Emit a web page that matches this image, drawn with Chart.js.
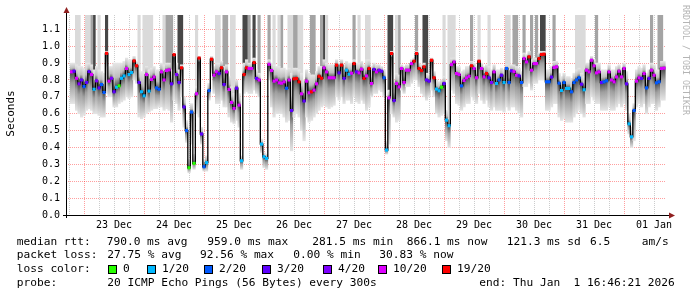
<!DOCTYPE html>
<html>
<head>
<meta charset="utf-8">
<script src="https://cdn.jsdelivr.net/npm/chart.js@4.4.1/dist/chart.umd.min.js"></script>
<style>
  html, body { margin: 0; padding: 0; background: #fff; }
</style>
</head>
<body>
<canvas id="c" width="697" height="297"></canvas>
<script>
// time axis is in hours after 22 Dec 00:00, one sample per hour
const firstHour = 19;
const startHour = 16 + 46 / 60 + 21 / 3600;   // 22 Dec 16:46:21
const endHour = startHour + 240;              // 01 Jan 16:46:21
const yMax = 1.185;

const median = [
  .848,.852,.81,.777,.80,.761,.785,.85,.832,.745,
  .795,.753,.773,.726,.958,.793,.81,.73,.757,.765,
  .81,.824,.868,.832,.844,.913,.884,.785,.73,.706,
  .832,.734,.803,.818,.753,.745,.848,.80,.856,.86,
  .777,.95,.832,.785,.872,.64,.50,.28,.61,.306,
  .718,.93,.48,.286,.31,.737,.923,.828,.848,.838,
  .872,.773,.848,.744,.667,.631,.751,.651,.321,.832,
  .872,.868,.868,.903,.809,.80,.42,.345,.335,.893,
  .856,.793,.80,.783,.781,.789,.751,.80,.619,.807,
  .809,.789,.718,.675,.793,.724,.73,.74,.777,.822,
  .81,.872,.848,.813,.813,.813,.888,.842,.888,.809,
  .858,.834,.84,.897,.848,.842,.864,.809,.824,.868,
  .779,.862,.848,.858,.852,.813,.385,.694,.957,.678,
  .779,.759,.868,.785,.858,.858,.897,.911,.957,.868,
  .856,.878,.80,.793,.917,.813,.746,.736,.757,.779,
  .562,.529,.891,.907,.838,.832,.765,.797,.813,.822,
  .884,.868,.813,.911,.868,.818,.838,.813,.785,.848,
  .779,.80,.828,.785,.868,.785,.854,.85,.828,.824,
  .785,.927,.907,.937,.858,.897,.897,.927,.951,.953,
  .789,.789,.817,.874,.878,.781,.738,.785,.75,.75,
  .73,.785,.80,.813,.775,.742,.858,.848,.917,.884,
  .842,.848,.785,.789,.795,.848,.80,.789,.818,.852,
  .818,.868,.777,.54,.463,.619,.793,.813,.809,.838,
  .753,.809,.858,.828,.783,.789,.868,.87
];

// index into lossColors
const loss = [
  5,3,5,4,3,2,3,3,5,1,
  4,3,2,2,6,5,4,3,1,0,
  1,1,5,1,1,6,6,3,1,1,
  5,1,5,5,2,2,5,5,5,5,
  3,6,4,3,6,3,2,0,2,0,
  5,6,3,2,1,2,6,5,5,3,
  6,3,5,5,5,5,3,5,1,6,
  6,5,5,6,3,5,1,1,1,5,
  5,5,5,5,5,5,2,5,3,6,
  6,6,5,3,5,5,6,5,5,6,
  6,5,5,5,5,5,6,3,6,3,
  1,1,5,6,3,5,5,6,5,6,
  5,3,5,4,3,2,1,5,6,3,
  5,5,5,5,5,5,5,6,6,6,
  6,6,3,3,6,6,1,1,0,3,
  1,1,5,5,5,5,2,5,5,5,
  6,5,5,6,5,5,6,3,4,5,
  1,2,3,1,2,2,3,5,5,3,
  2,5,5,6,5,5,5,6,6,6,
  2,2,3,5,5,2,1,2,1,1,
  2,2,2,2,3,1,5,5,5,5,
  5,5,3,2,2,5,5,5,5,5,
  5,5,3,1,1,2,5,5,3,5,
  2,3,5,5,2,2,5,5
];

const smokeLo = [
  .66,.66,.62,.60,.58,.59,.62,.63,.62,.60,
  .60,.59,.58,.58,.72,.70,.70,.64,.64,.66,
  .67,.68,.70,.69,.70,.80,.78,.58,.57,.58,
  .60,.61,.62,.63,.63,.64,.64,.62,.63,.62,
  .55,.68,.66,.62,.70,.52,.43,.25,.42,.27,
  .60,.58,.42,.26,.26,.68,.84,.72,.66,.66,
  .68,.64,.64,.58,.55,.54,.56,.52,.27,.72,
  .73,.72,.72,.74,.72,.70,.37,.28,.27,.80,
  .64,.58,.60,.60,.60,.58,.55,.56,.38,.58,
  .60,.58,.50,.44,.58,.55,.56,.58,.60,.62,
  .64,.65,.64,.63,.64,.65,.70,.68,.70,.66,
  .68,.68,.66,.70,.67,.66,.68,.66,.62,.64,
  .70,.72,.72,.74,.73,.70,.36,.42,.60,.58,
  .55,.56,.74,.72,.76,.76,.78,.80,.80,.76,
  .72,.70,.68,.70,.74,.70,.60,.58,.59,.60,
  .44,.40,.74,.72,.66,.65,.62,.64,.66,.66,
  .70,.68,.66,.72,.68,.66,.68,.64,.62,.64,
  .62,.62,.62,.61,.64,.62,.64,.64,.62,.60,
  .58,.76,.76,.78,.74,.78,.78,.80,.80,.80,
  .62,.62,.64,.66,.66,.58,.56,.57,.55,.55,
  .55,.58,.60,.62,.60,.58,.66,.66,.70,.68,
  .66,.66,.62,.62,.62,.64,.62,.62,.64,.66,
  .64,.66,.62,.48,.40,.44,.64,.66,.64,.66,
  .60,.64,.66,.66,.62,.64,.68,.68
];

const smokeHi = [
  .90,.90,.89,.88,.88,.87,.90,.90,.89,.86,
  .88,.86,.85,.84,.97,.88,.88,.90,.90,.90,
  .90,.91,.93,.92,.92,.94,.91,.87,.85,.85,
  .88,.86,.87,.88,.86,.86,.90,.89,.90,.90,
  .86,.96,.90,.86,.89,.70,.56,.33,.66,.36,
  .76,.94,.52,.33,.35,.78,.94,.88,.90,.90,
  .91,.88,.89,.82,.76,.72,.80,.72,.35,.90,
  .92,.90,.90,.93,.86,.84,.45,.37,.36,.92,
  .90,.89,.88,.88,.87,.87,.86,.87,.84,.87,
  .87,.86,.84,.80,.86,.84,.83,.83,.85,.88,
  .88,.92,.90,.89,.89,.89,.92,.90,.92,.89,
  .91,.90,.90,.92,.90,.90,.91,.89,.92,.92,
  .88,.90,.89,.89,.88,.86,.44,.74,.97,.80,
  .84,.83,.89,.88,.89,.89,.92,.93,.97,.90,
  .89,.90,.84,.83,.93,.85,.80,.79,.80,.82,
  .62,.57,.93,.93,.88,.88,.85,.86,.88,.88,
  .91,.90,.88,.93,.90,.88,.89,.88,.86,.89,
  .86,.86,.87,.86,.89,.86,.89,.89,.88,.87,
  .85,.96,.95,.97,.92,.93,.93,.96,.97,.97,
  .86,.86,.88,.91,.91,.84,.82,.84,.82,.82,
  .81,.84,.86,.87,.84,.82,.90,.90,.94,.92,
  .90,.90,.86,.86,.86,.89,.86,.86,.88,.89,
  .87,.90,.85,.60,.52,.66,.86,.88,.87,.89,
  .84,.86,.90,.89,.86,.86,.91,.91
];

// hours where some pings went off the top of the graph
const lightSpikes = [21,22,25,26,30,46,48,49,50,51,56,69,77,78,83,84,100,102,106,107,110,111,121,134,137,138,149,168,170,171,172,182,186,193,194,221,222,223,224];
const greySpikes = [27,57,58,59,80,81,90,94,98,103,108,109,115,116,119,132,150,157,179,196,197,200,203,205,212,229,251,254,255];
const darkSpikes = [28,33,62,63,88,89,92,120,146,147,160,161,207,208];

const dayLabels = ['23 Dec','24 Dec','25 Dec','26 Dec','27 Dec','28 Dec','29 Dec','30 Dec','31 Dec','01 Jan'];
const yTicks = [0.0,0.1,0.2,0.3,0.4,0.5,0.6,0.7,0.8,0.9,1.0,1.1];

const lossColors = ['#26ff00','#00b8ff','#0059ff','#5e00ff','#7e00ff','#dd00ff','#ff0000'];
const lossLabels = ['0','1/20','2/20','3/20','4/20','10/20','19/20'];
const lossKeyX = [108, 147, 204, 262, 323, 378, 442];

const statLines = [
  [[16.7,'median rtt:'],[106.7,'790.0 ms avg'],[207.3,'959.0 ms max'],[312.3,'281.5 ms min'],[406.7,'866.1 ms now'],[506.7,'121.3 ms sd'],[590,'6.5'],[641.7,'am/s']],
  [[16.7,'packet loss:'],[107.3,'27.75 % avg'],[200,'92.56 % max'],[293.3,'0.00 % min'],[379.3,'30.83 % now']],
  [[16.7,'loss color:']],
  [[16.7,'probe:'],[107.3,'20 ICMP Echo Pings (56 Bytes) every 300s'],[479.3,'end: Thu Jan  1 16:46:21 2026']]
];
const statY = [241.7, 255, 269, 282.7];

const MONO = '"DejaVu Sans Mono", monospace';

function smokeFill(c) {
  if (c.type !== 'data') return '#999';
  const ys = c.chart.scales.y;
  const i = c.dataIndex;
  if (!ys) return '#999';
  const top = ys.getPixelForValue(smokeHi[i]);
  const bot = ys.getPixelForValue(smokeLo[i]);
  const mid = ys.getPixelForValue(median[i]);
  if (!isFinite(top) || !isFinite(bot) || !isFinite(mid)) return '#999';
  let f = (mid - top) / Math.max(bot - top, 1);
  f = Math.min(0.9, Math.max(0.1, f));
  const g = c.chart.ctx.createLinearGradient(0, top, 0, bot);
  g.addColorStop(0, '#e6e6e6');
  g.addColorStop(f * 0.6, '#bdbdbd');
  g.addColorStop(f, '#474747');
  g.addColorStop(f + (1 - f) * 0.35, '#9e9e9e');
  g.addColorStop(1, '#e4e4e4');
  return g;
}

function spikeSet(hours, color) {
  return {
    type: 'bar',
    data: hours.map(h => ({x: h, y: [smokeHi[h - firstHour], yMax]})),
    backgroundColor: color,
    barPercentage: 1, categoryPercentage: 1, grouped: false,
    order: 3
  };
}

const extras = {
  id: 'extras',
  afterDraw(chart) {
    const {ctx, chartArea: a} = chart;
    ctx.save();
    // axes with arrows
    ctx.strokeStyle = '#000';
    ctx.lineWidth = 1;
    ctx.beginPath();
    ctx.moveTo(a.left + 0.5, a.bottom + 3);
    ctx.lineTo(a.left + 0.5, a.top - 3);
    ctx.moveTo(a.left - 3, a.bottom + 0.5);
    ctx.lineTo(a.right + 3, a.bottom + 0.5);
    ctx.stroke();
    ctx.fillStyle = '#902020';
    ctx.beginPath();
    ctx.moveTo(a.left + 0.5, a.top - 8);
    ctx.lineTo(a.left - 2.5, a.top - 2);
    ctx.lineTo(a.left + 3.5, a.top - 2);
    ctx.fill();
    ctx.beginPath();
    ctx.moveTo(a.right + 9, a.bottom + 0.5);
    ctx.lineTo(a.right + 3, a.bottom - 2.5);
    ctx.lineTo(a.right + 3, a.bottom + 3.5);
    ctx.fill();

    // y axis title
    ctx.fillStyle = '#000';
    ctx.font = '11px ' + MONO;
    ctx.textAlign = 'center';
    ctx.textBaseline = 'middle';
    ctx.translate(11, 113.5);
    ctx.rotate(-Math.PI / 2);
    ctx.fillText('Seconds', 0, 0);
    ctx.setTransform(1, 0, 0, 1, 0, 0);

    // watermark
    ctx.fillStyle = '#b4b4b4';
    ctx.font = '8.3px ' + MONO;
    ctx.textAlign = 'left';
    ctx.translate(685.5, 5);
    ctx.rotate(Math.PI / 2);
    ctx.fillText('RRDTOOL / TOBI OETIKER', 0, 0);
    ctx.setTransform(1, 0, 0, 1, 0, 0);

    // statistics below the graph
    ctx.fillStyle = '#000';
    ctx.font = '11.2px ' + MONO;
    ctx.textAlign = 'left';
    ctx.textBaseline = 'middle';
    statLines.forEach((line, li) => {
      line.forEach(([x, t]) => ctx.fillText(t, x, statY[li]));
    });
    lossColors.forEach((col, k) => {
      const x = lossKeyX[k];
      ctx.fillStyle = col;
      ctx.fillRect(x, 265, 8, 8);
      ctx.strokeStyle = '#000';
      ctx.strokeRect(x + 0.5, 265.5, 8, 8);
      ctx.fillStyle = '#000';
      ctx.fillText(lossLabels[k], x + 15, statY[2]);
    });
    ctx.restore();
  }
};

new Chart(document.getElementById('c'), {
  data: {
    datasets: [
      {
        type: 'line',
        data: median.map((v, i) => ({x: firstHour + i, y: v})),
        borderColor: '#000',
        borderWidth: 1.3,
        stepped: 'middle',
        pointStyle: 'rect',
        pointRadius: 2.2,
        pointBorderWidth: 0,
        pointBackgroundColor: loss.map(k => lossColors[k]),
        order: 0
      },
      {
        type: 'bar',
        data: smokeLo.map((lo, i) => ({x: firstHour + i, y: [lo, smokeHi[i]]})),
        backgroundColor: smokeFill,
        barPercentage: 1, categoryPercentage: 1, grouped: false,
        order: 2
      },
      spikeSet(lightSpikes, '#dadada'),
      spikeSet(greySpikes, '#a4a4a4'),
      spikeSet(darkSpikes, '#474747')
    ]
  },
  options: {
    responsive: false,
    devicePixelRatio: 1,
    animation: false,
    layout: { padding: { top: 15, right: 31, left: 0, bottom: 0 } },
    plugins: { legend: { display: false }, tooltip: { enabled: false } },
    scales: {
      x: {
        type: 'linear',
        min: startHour,
        max: endHour,
        offset: false,
        afterBuildTicks: s => {
          const t = [];
          for (let h = Math.ceil(s.min / 6) * 6; h <= s.max; h += 6) t.push({value: h});
          s.ticks = t;
        },
        afterFit: s => { s.height = 82; s.paddingLeft = 0; s.paddingRight = 0; },
        grid: {
          offset: false,
          drawTicks: false,
          lineWidth: 1,
          color: c => (c.tick && c.tick.value % 24 === 0) ? 'rgba(255,0,0,0.38)' : 'rgba(120,120,120,0.38)'
        },
        border: { display: false, dash: [1, 1] },
        ticks: {
          autoSkip: false,
          maxRotation: 0,
          padding: 4,
          color: '#000',
          font: { family: MONO, size: 10 },
          callback: v => (v % 24 === 12) ? dayLabels[(v - 12) / 24 - 1] : ''
        }
      },
      y: {
        type: 'linear',
        min: 0,
        max: yMax,
        afterBuildTicks: s => { s.ticks = yTicks.map(v => ({value: v})); },
        afterFit: s => { s.width = 66; s.paddingTop = 0; s.paddingBottom = 0; },
        grid: { drawTicks: false, lineWidth: 1, color: 'rgba(255,0,0,0.38)' },
        border: { display: false, dash: [1, 1] },
        ticks: {
          padding: 6,
          color: '#000',
          font: { family: MONO, size: 10 },
          callback: v => v.toFixed(1)
        }
      }
    }
  },
  plugins: [extras]
});
</script>
</body>
</html>
